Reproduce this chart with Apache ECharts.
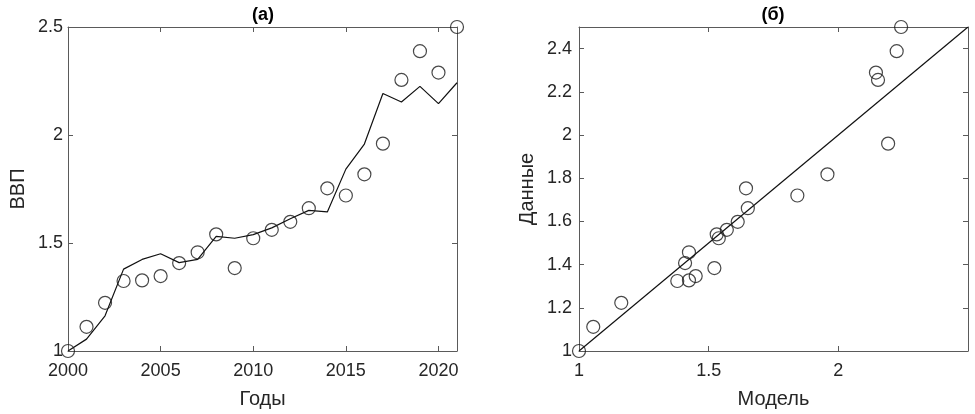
<!DOCTYPE html>
<html><head><meta charset="utf-8">
<script src="https://cdn.jsdelivr.net/npm/echarts@6/dist/echarts.min.js"></script>
<style>html,body{margin:0;padding:0;background:#fff}#c{width:975px;height:414px}</style>
</head><body><div id="c"></div>
<script>
const years = [2000,2001,2002,2003,2004,2005,2006,2007,2008,2009,2010,2011,2012,2013,2014,2015,2016,2017,2018,2019,2020,2021];
const dataGDP = [1.000,1.112,1.223,1.324,1.327,1.347,1.407,1.457,1.540,1.384,1.522,1.561,1.598,1.661,1.753,1.720,1.818,1.960,2.255,2.388,2.289,2.500];
const modelGDP = [1.000,1.055,1.163,1.379,1.424,1.450,1.409,1.424,1.531,1.522,1.539,1.570,1.612,1.651,1.644,1.842,1.958,2.192,2.153,2.225,2.145,2.242];
const diagLine = [[1,1],[2.5,2.5]];
const titles = ['(a)','(б)'];
const axisNames = {leftX:'Годы', leftY:'ВВП', rightX:'Модель', rightY:'Данные'};

const FONT = 'Liberation Sans, Arial, sans-serif';
const frame = '#5a5a5a';
const txt = '#262626';
const lbl = {color: txt, fontSize: 18, fontFamily: FONT};

function mainAxis(o){
  return Object.assign({
    type:'value',
    axisLine:{show:true, onZero:false, lineStyle:{color:frame, width:1}},
    axisTick:{show:true, inside:true, length:5, lineStyle:{color:frame}},
    splitLine:{show:false},
    nameLocation:'middle',
    nameTextStyle:{color:txt, fontSize:20, fontFamily:FONT}
  }, o);
}
function sideAxis(o){
  return Object.assign({
    type:'value',
    axisLine:{show:true, onZero:false, lineStyle:{color:frame, width:1}},
    axisTick:{show:true, inside:true, length:5, lineStyle:{color:frame}},
    axisLabel:{show:false},
    splitLine:{show:false}
  }, o);
}

const grids = [
  {left:68, right:518, top:27, bottom:61},
  {left:579, right:7, top:27, bottom:61}
];
const titleStyle = {fontSize:18, fontWeight:'bold', color:'#000', fontFamily:FONT};

const option = {
  animation:false,
  backgroundColor:'#fff',
  title:[
    {text:titles[0], left:263, top:6, padding:0, textAlign:'center', textStyle:titleStyle},
    {text:titles[1], left:773, top:6, padding:0, textAlign:'center', textStyle:titleStyle}
  ],
  grid: grids,
  xAxis:[
    mainAxis({gridIndex:0, position:'bottom', min:2000, max:2021, interval:5, name:axisNames.leftX, nameGap:38,
      axisLabel:Object.assign({margin:11, showMaxLabel:false, formatter:v=>String(v)}, lbl)}),
    sideAxis({gridIndex:0, position:'top', min:2000, max:2021, interval:5}),
    mainAxis({gridIndex:1, position:'bottom', min:1, max:2.5, interval:0.5, name:axisNames.rightX, nameGap:38,
      axisLabel:Object.assign({margin:11, showMaxLabel:false}, lbl)}),
    sideAxis({gridIndex:1, position:'top', min:1, max:2.5, interval:0.5})
  ],
  yAxis:[
    mainAxis({gridIndex:0, position:'left', min:1, max:2.5, interval:0.5, name:axisNames.leftY, nameGap:40,
      axisLabel:Object.assign({margin:5}, lbl)}),
    sideAxis({gridIndex:0, position:'right', min:1, max:2.5, interval:0.5}),
    mainAxis({gridIndex:1, position:'left', min:1, max:2.5, interval:0.2, name:axisNames.rightY, nameGap:42,
      axisLabel:Object.assign({margin:7, showMaxLabel:false}, lbl)}),
    sideAxis({gridIndex:1, position:'right', min:1, max:2.5, interval:0.2})
  ],
  series:[
    {type:'line', xAxisIndex:0, yAxisIndex:0, data:years.map((y,i)=>[y, modelGDP[i]]),
      showSymbol:false, symbol:'none', lineStyle:{color:'#111', width:1.2}, z:3},
    {type:'scatter', xAxisIndex:0, yAxisIndex:0, data:years.map((y,i)=>[y, dataGDP[i]]),
      symbol:'circle', symbolSize:13, itemStyle:{color:'rgba(0,0,0,0)', borderColor:'#1a1a1a', borderWidth:1.2}, z:4},
    {type:'line', xAxisIndex:2, yAxisIndex:2, data:diagLine,
      showSymbol:false, symbol:'none', lineStyle:{color:'#111', width:1.2}, z:3},
    {type:'scatter', xAxisIndex:2, yAxisIndex:2, data:modelGDP.map((m,i)=>[m, dataGDP[i]]),
      symbol:'circle', symbolSize:13, itemStyle:{color:'rgba(0,0,0,0)', borderColor:'#1a1a1a', borderWidth:1.2}, z:4}
  ]
};
const chart = echarts.init(document.getElementById('c'), null, {renderer:'canvas'});
chart.setOption(option);
</script>
</body></html>
